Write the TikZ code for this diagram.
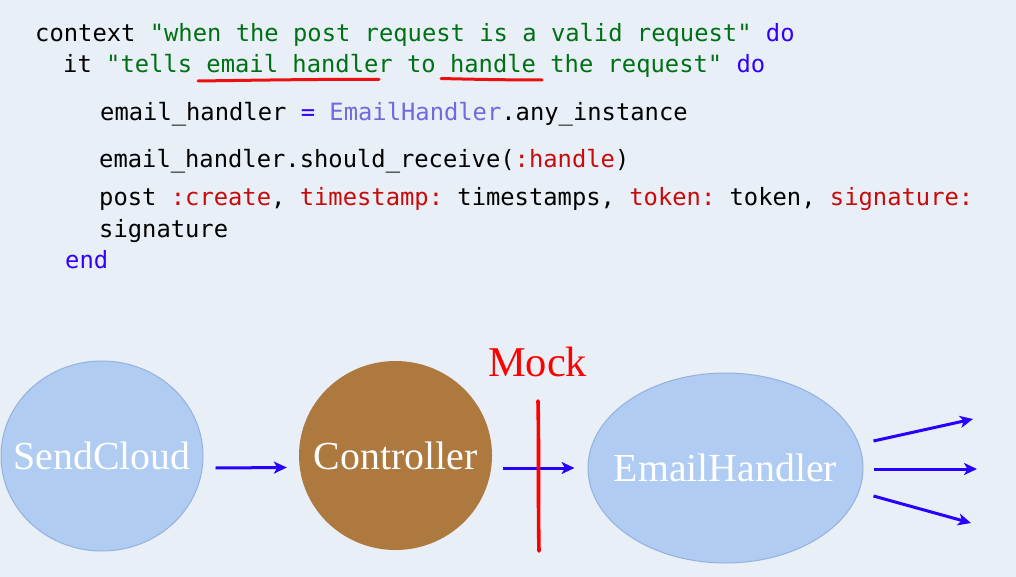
\documentclass[tikz,border=0pt]{standalone}
\usepackage{fontspec}
\setmonofont{DejaVu Sans Mono}
\newfontfamily\serifnode{Liberation Serif}
\usetikzlibrary{shapes.geometric,arrows.meta}
\definecolor{bg}{RGB}{232,239,247}
\definecolor{strg}{RGB}{0,112,20}
\definecolor{kw}{RGB}{50,0,255}
\definecolor{cls}{RGB}{112,106,222}
\definecolor{sym}{RGB}{200,10,10}
\definecolor{penred}{RGB}{235,15,15}
\definecolor{bluefill}{RGB}{176,204,243}
\definecolor{blueedge}{RGB}{150,178,220}
\definecolor{ctlbrown}{RGB}{174,121,62}
\definecolor{arrowblue}{RGB}{40,0,255}
\definecolor{mockred}{RGB}{255,0,0}
\tikzset{
  code/.style={anchor=base west, inner sep=0pt, font=\ttfamily\fontsize{23.8}{28}\selectfont, text=black},
  blob/.style={ellipse, inner sep=0pt, text=white, font=\serifnode\fontsize{39.8}{44}\selectfont},
  flow/.style={draw=arrowblue, line width=3pt, -{Stealth[length=13pt,width=12pt,inset=3.5pt]}},
  redpen/.style={draw=penred, line width=3pt, line cap=round},
  mockpen/.style={draw=mockred, line width=3.6pt, line cap=round}
}
\begin{document}
\begin{tikzpicture}[x=1pt,y=-1pt]
\fill[bg] (0,0) rectangle (1016,577);
\useasboundingbox (0,0) rectangle (1016,577);
% code
\node[code] (l1) at (35,42) {context \textcolor{strg}{"when the post request is a valid request"} \textcolor{kw}{do}};
\node[code] (l2) at (63,73) {it \textcolor{strg}{"tells email handler to handle the request"} \textcolor{kw}{do}};
\node[code] (l3) at (100,121) {email\_handler \textcolor{kw}{=} \textcolor{cls}{EmailHandler}.any\_instance};
\node[code] (l4) at (99,168) {email\_handler.should\_receive(\textcolor{sym}{:handle})};
\node[code] (l5) at (99,206) {post \textcolor{sym}{:create}, \textcolor{sym}{timestamp:} timestamps, \textcolor{sym}{token:} token, \textcolor{sym}{signature:}};
\node[code] (l6) at (99,237) {signature};
\node[code] (l7) at (65,268) {\textcolor{kw}{end}};
% hand-drawn underlines
\draw[redpen] (198,81) .. controls (270,80) and (330,79) .. (379,79.5);
\draw[redpen] (441,78.5) .. controls (480,79.5) and (515,80) .. (542,80);
% diagram
\node[blob, fill=bluefill, draw=blueedge, line width=1pt, minimum width=202pt, minimum height=190pt] (sc) at (102,456) {\makebox[0pt]{SendCloud}};
\node[blob, fill=ctlbrown, minimum width=193pt, minimum height=189pt] (ctl) at (395.5,455.5) {\makebox[0pt]{Controller}};
\node[blob, fill=bluefill, draw=blueedge, line width=1pt, minimum width=275pt, minimum height=190pt] (eh) at (725.5,468) {\makebox[0pt]{EmailHandler}};
\node[anchor=base west, inner sep=0pt, text=mockred, font=\serifnode\fontsize{42.4}{46}\selectfont] (mock) at (488,376) {Mock};
\draw[flow] ([shift={(12,12)}]sc.east) -- ([shift={(-12,12)}]ctl.west);
\draw[flow] ([shift={(11,12.5)}]ctl.east) -- ([shift={(-13,0)}]eh.west);
\coordinate (t1) at (973,419);
\coordinate (t2) at (977,469);
\coordinate (t3) at (971,523);
\draw[flow] ([shift={(10,-27)}]eh.east) -- (t1);
\draw[flow] ([shift={(10,1)}]eh.east) -- (t2);
\draw[flow] ([shift={(10,28)}]eh.east) -- (t3);
\draw[mockpen] (538,401) .. controls (539,450) and (538,500) .. (539,551);
\end{tikzpicture}
\end{document}
